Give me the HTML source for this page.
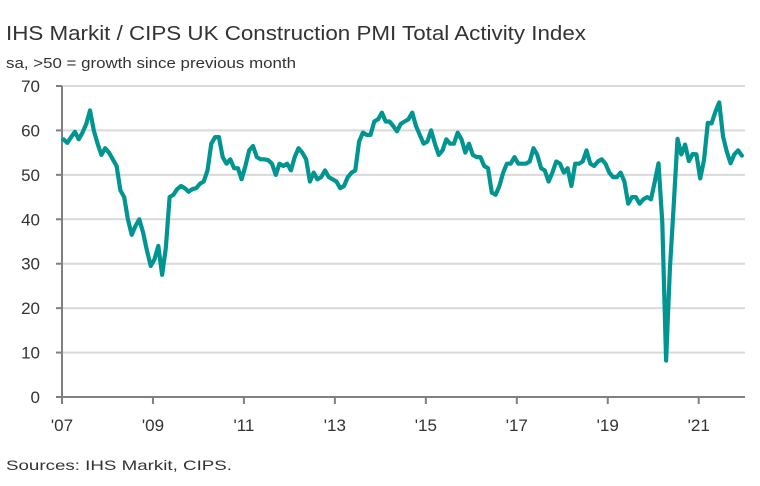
<!DOCTYPE html>
<html><head><meta charset="utf-8"><style>
html,body{margin:0;padding:0;background:#fff;}
svg{display:block;font-family:"Liberation Sans",sans-serif;}
</style></head><body>
<svg id="chart" width="760" height="486" viewBox="0 0 760 486" xmlns="http://www.w3.org/2000/svg">
<text x="6" y="40" font-size="20" fill="#333" textLength="580" lengthAdjust="spacingAndGlyphs">IHS Markit / CIPS UK Construction PMI Total Activity Index</text>
<text x="6" y="68" font-size="15" fill="#333" textLength="290" lengthAdjust="spacingAndGlyphs">sa, &gt;50 = growth since previous month</text>
<g id="grid"></g>
<g id="yticks"></g>
<g id="xticks"></g>
<path id="line" fill="none" stroke="#009591" stroke-width="4.2" stroke-linejoin="round" stroke-linecap="round"/>
<text x="6" y="470" font-size="14" fill="#333" textLength="226" lengthAdjust="spacingAndGlyphs">Sources: IHS Markit, CIPS.</text>
</svg>
<script>
const yTicks=[0,10,20,30,40,50,60,70];
const xLabels=["'07","'09","'11","'13","'15","'17","'19","'21"];
const startYear=2007;
const v2007=[58,57.2,58.5,59.7,58,59.5,61.5,64.5,60,57,54.5,56];
const v2008=[55,53.5,52,46.5,45,40,36.5,38.5,40,37,33,29.5];
const v2009=[31,34,27.5,33.5,45,45.5,46.8,47.5,47,46.2,46.8,47];
const v2010=[48,48.5,51,57,58.5,58.5,54,52.5,53.5,51.5,51.5,49];
const v2011=[52,55.5,56.5,54,53.5,53.5,53.3,52.5,50,52.5,52,52.5];
const v2012=[51,54,56,55,53.5,48.5,50.5,49,49.5,51,49.5,49];
const v2013=[48.5,47,47.5,49.5,50.5,51,57.5,59.5,59,59,62,62.5];
const v2014=[64,62,62,61,59.8,61.5,62,62.5,64,61,59,57];
const v2015=[57.5,60,57,54.5,55.5,58,57,57,59.5,58,55,57];
const v2016=[54.5,54,54,52,51.5,46,45.5,47.5,50.5,52.5,52.5,54];
const v2017=[52.5,52.5,52.5,53,56,54.5,51.5,51,48.5,50.5,53,52.5];
const v2018=[50.5,51.5,47.5,52.5,52.5,53,55.5,52.5,52,53,53.5,52.5];
const v2019=[50.5,49.5,49.5,50.5,48.5,43.5,45,45,43.5,44.5,45,44.5];
const v2020=[48.5,52.6,39.3,8.2,28.9,43.1,58.1,54.6,56.8,53.1,54.7,54.6];
const v2021=[49.2,53.3,61.7,61.6,64.2,66.3,58.7,55.2,52.6,54.6,55.5,54.3];
const values=[].concat(v2007,v2008,v2009,v2010,v2011,v2012,v2013,v2014,v2015,v2016,v2017,v2018,v2019,v2020,v2021);

const NS="http://www.w3.org/2000/svg";
const x0=62,pxPerMonth=3.79,y0=397,pxPerUnit=4.443,dataOffset=0.4;
const xScale=m=>x0+m*pxPerMonth;
const yScale=v=>y0-v*pxPerUnit;
const gridRight=745;
const grid=document.getElementById('grid'),yt=document.getElementById('yticks'),xt=document.getElementById('xticks');
function mk(tag,attrs,parent){const e=document.createElementNS(NS,tag);for(const k in attrs)e.setAttribute(k,attrs[k]);parent.appendChild(e);return e;}
yTicks.forEach(t=>{
  const y=yScale(t);
  if(t>0){const g=mk('line',{x1:x0,x2:gridRight,y1:y,y2:y,stroke:'#d9d9d9','stroke-width':2},grid);
  
  }
  const tk=mk('line',{x1:x0-6,x2:x0,y1:y,y2:y,stroke:'#808080','stroke-width':2},yt);
  
  
  const lb=mk('text',{x:x0-22,y:y+6,'font-size':17,fill:'#333','text-anchor':'end'},yt);
  
  
  lb.textContent=t;
});
const ya=mk('line',{x1:x0,x2:x0,y1:yScale(70),y2:y0,stroke:'#808080','stroke-width':2},yt);


const xa=mk('line',{x1:x0,x2:gridRight,y1:y0,y2:y0,stroke:'#808080','stroke-width':2},xt);


xLabels.forEach((l,i)=>{
  const x=xScale(i*24);
  const tk=mk('line',{x1:x,x2:x,y1:y0,y2:y0+7,stroke:'#808080','stroke-width':2},xt);
  
  
  const lb=mk('text',{x:x,y:y0+34,'font-size':17,fill:'#333','text-anchor':'middle'},xt);
  
  
  lb.textContent=l;
});
document.getElementById('line').setAttribute('d',values.map((v,i)=>(i?'L':'M')+xScale(i+dataOffset).toFixed(1)+','+yScale(v).toFixed(1)).join(''));
</script>
</body></html>
